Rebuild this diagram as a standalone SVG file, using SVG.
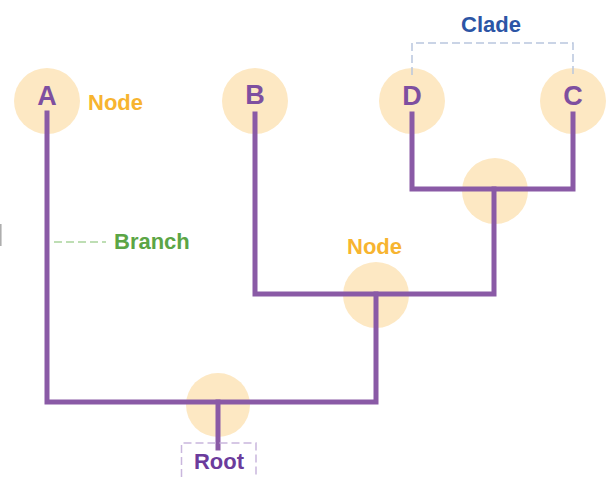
<svg xmlns="http://www.w3.org/2000/svg" width="610" height="477" viewBox="0 0 610 477">
<style>
.n{fill:#FDE8C3}
.lt{font-family:"Liberation Sans",Arial,sans-serif;font-weight:bold;font-size:27px;fill:#7E4FA0;text-anchor:middle}
.lb{font-family:"Liberation Sans",Arial,sans-serif;font-weight:bold;font-size:22px}
.e{fill:none;stroke:#8A5AA6;stroke-width:5;stroke-linejoin:miter;stroke-linecap:square}
</style>
<rect width="610" height="477" fill="#fff"/>
<line x1="0.8" y1="224" x2="0.8" y2="246" stroke="#aaa" stroke-width="1.5"/>
<g id="node-A"><circle class="n" cx="47" cy="101" r="33"/><text class="lt" x="47" y="105">A</text></g>
<g id="node-B"><circle class="n" cx="255" cy="101" r="33"/><text class="lt" x="255" y="104">B</text></g>
<g id="node-D"><circle class="n" cx="412" cy="101" r="33"/><text class="lt" x="412" y="105">D</text></g>
<g id="node-C"><circle class="n" cx="573" cy="101" r="33"/><text class="lt" x="573" y="105">C</text></g>
<g id="node-DC"><circle class="n" cx="495" cy="191" r="33"/></g>
<g id="node-BDC"><circle class="n" cx="376" cy="295" r="33"/></g>
<g id="node-root"><circle class="n" cx="218" cy="405" r="32"/></g>
<g id="connectors">
<path class="e" d="M47 113V402H376V294"/>
<path class="e" d="M255 114V294H494V189"/>
<path class="e" d="M412 114V189H573V114"/>
<path class="e" d="M218 402V448"/>
</g>
<g id="label-node1"><text class="lb" x="88" y="110" fill="#F7B430">Node</text></g>
<g id="label-node2"><text class="lb" x="347" y="254" fill="#F7B430">Node</text></g>
<g id="label-branch"><line x1="54" y1="242" x2="106" y2="242" stroke="#A9D49C" stroke-width="1.5" stroke-dasharray="8,4"/><text class="lb" x="114" y="249" fill="#5BA545">Branch</text></g>
<g id="label-clade"><path d="M412 75V43H573V75" fill="none" stroke="#B9C6DE" stroke-width="1.5" stroke-dasharray="8,4"/><text class="lb" x="491" y="32" fill="#2C55A5" text-anchor="middle">Clade</text></g>
<g id="label-root"><path d="M181.5 477V443H256V477" fill="none" stroke="#C9B7DD" stroke-width="1.5" stroke-dasharray="8,4"/><text class="lb" x="219" y="469" fill="#6B3B9C" text-anchor="middle">Root</text></g>
</svg>
